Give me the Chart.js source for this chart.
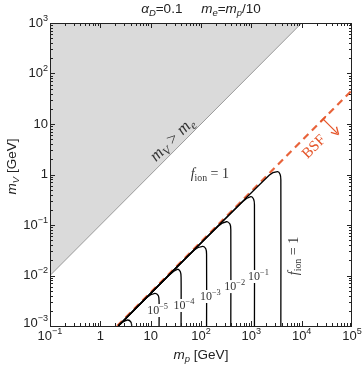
<!DOCTYPE html>
<html>
<head>
<meta charset="utf-8">
<script src="https://cdn.jsdelivr.net/npm/chart.js@4"></script>
<style>
  html, body { margin: 0; padding: 0; background: #fff; }
  canvas { display: block; }
</style>
</head>
<body>
<canvas id="fionChart" width="364" height="367"></canvas>
<script>
// Ejes (escala logaritmica)
var xMin = 0.1, xMax = 1e5;
var yMin = 1e-3, yMax = 1e3;

// Etiquetas de los ejes: [base, exponente]
var xTickValues = [0.1, 1, 10, 100, 1e3, 1e4, 1e5];
var xTickLabels = [['10', '\u22121'], ['1', ''], ['10', ''], ['10', '2'], ['10', '3'], ['10', '4'], ['10', '5']];
var yTickValues = [1e-3, 1e-2, 0.1, 1, 10, 100, 1e3];
var yTickLabels = [['10', '\u22123'], ['10', '\u22122'], ['10', '\u22121'], ['1', ''], ['10', ''], ['10', '2'], ['10', '3']];

// Region gris m_V > m_e
var grayX = [0.1, 1e4];
var grayY = [0.01, 1e3];

// Linea BSF (discontinua)
var bsfX = [2.15, 1e5];
var bsfY = [0.001, 46.5];

// Contornos de f_ion
var c0X = [2.28, 2291, 3304, 3722, 3858, 3858];
var c0Y = [0.001, 0.977, 1.135, 1.014, 0.789, 0.001];
var c1X = [2.28, 678, 977, 1111, 1153, 1153];
var c1Y = [0.001, 0.290, 0.363, 0.324, 0.252, 0.001];
var c2X = [2.28, 222, 320, 377, 391, 391];
var c2Y = [0.001, 0.0955, 0.116, 0.1038, 0.0807, 0.001];
var c3X = [2.28, 74.6, 108, 124.5, 129, 129];
var c3Y = [0.001, 0.0323, 0.0378, 0.0338, 0.0263, 0.001];
var c4X = [2.28, 23.5, 34.0, 38.9, 40.2, 40.2];
var c4Y = [0.001, 0.01023, 0.01327, 0.01183, 0.0092, 0.001];
var c5X = [2.28, 8.36, 12.07, 14.22, 14.69, 14.69];
var c5Y = [0.001, 0.00365, 0.00444, 0.00396, 0.00308, 0.001];
var c6X = [2.28, 2.64, 3.47, 4.06, 4.21];
var c6Y = [0.001, 0.001157, 0.001315, 0.0012, 0.001];

// Etiquetas de contorno (exponente, posicion del "10")
var contourExp = ['\u22125', '\u22124', '\u22123', '\u22122', '\u22121'];
var contourLabX = [11.2, 37.5, 125, 380, 1130];
var contourLabY = [0.00198, 0.00249, 0.00375, 0.0059, 0.00933];

var SANS = '"Liberation Sans", Arial, sans-serif';
var SERIF = '"Liberation Serif", "DejaVu Serif", serif';

function toPoints(xs, ys) {
    return xs.map(function(x, i) { return { x: x, y: ys[i] }; });
}

function contour(xs, ys) {
    return {
        data: toPoints(xs, ys),
        showLine: true,
        borderColor: '#000',
        borderWidth: 1.3,
        tension: 0.3,
        pointRadius: 0,
        fill: false,
        order: 1
    };
}

// Texto con partes en cursiva, subindices y superindices
function drawRich(ctx, parts, x, y, align, size, family, color) {
    var widths = [];
    var total = 0;
    parts.forEach(function(p) {
        var s = (p.sub || p.sup) ? size * 0.7 : size;
        ctx.font = (p.i ? 'italic ' : '') + s + 'px ' + family;
        var w = ctx.measureText(p.t).width;
        widths.push(w);
        total += w;
    });
    var cx = x;
    if (align === 'center') cx = x - total / 2;
    if (align === 'right') cx = x - total;
    if (align === 'first') cx = x - widths[0] / 2;
    ctx.fillStyle = color;
    ctx.textAlign = 'left';
    ctx.textBaseline = 'middle';
    parts.forEach(function(p, i) {
        var s = (p.sub || p.sup) ? size * 0.7 : size;
        ctx.font = (p.i ? 'italic ' : '') + s + 'px ' + family;
        var dy = p.sub ? size * 0.3 : (p.sup ? -size * 0.38 : 0);
        ctx.fillText(p.t, cx, y + dy);
        cx += widths[i];
    });
    return total;
}

function powParts(lab) {
    var parts = [{ t: lab[0] }];
    if (lab[1]) parts.push({ t: lab[1], sup: true });
    return parts;
}

var decorPlugin = {
    id: 'decor',
    beforeDraw: function(chart) {
        var ctx = chart.ctx;
        ctx.save();
        ctx.fillStyle = '#fff';
        ctx.fillRect(0, 0, chart.width, chart.height);
        ctx.restore();
    },
    afterDatasetsDraw: function(chart) {
        var ctx = chart.ctx;
        var a = chart.chartArea;
        var xs = chart.scales.x, ys = chart.scales.y;
        ctx.save();

        // Etiquetas de contorno con fondo blanco
        contourExp.forEach(function(e, i) {
            var px = xs.getPixelForValue(contourLabX[i]);
            var py = ys.getPixelForValue(contourLabY[i]);
            ctx.font = '12px ' + SERIF;
            var w10 = ctx.measureText('10').width;
            ctx.font = '8.4px ' + SERIF;
            var we = ctx.measureText(e).width;
            ctx.fillStyle = '#fff';
            ctx.fillRect(px - w10 / 2 - 1, py - 7, w10 + we + 2, 13);
            drawRich(ctx, [{ t: '10' }, { t: e, sup: true }], px, py, 'first', 12, SERIF, '#333');
        });

        // Marco
        ctx.strokeStyle = '#222';
        ctx.lineWidth = 1;
        ctx.strokeRect(a.left + 0.5, a.top + 0.5, a.right - a.left - 1, a.bottom - a.top);

        // Marcas hacia dentro (mayores y menores)
        ctx.beginPath();
        for (var n = -1; n < 5; n++) {
            for (var m = 1; m < 10; m++) {
                var v = m * Math.pow(10, n);
                var len = m === 1 ? 5 : 3;
                var px = Math.round(xs.getPixelForValue(v)) + 0.5;
                ctx.moveTo(px, a.bottom); ctx.lineTo(px, a.bottom - len);
                ctx.moveTo(px, a.top); ctx.lineTo(px, a.top + len);
            }
        }
        for (var n2 = -3; n2 < 3; n2++) {
            for (var m2 = 1; m2 < 10; m2++) {
                var v2 = m2 * Math.pow(10, n2);
                var len2 = m2 === 1 ? 5 : 3;
                var py = Math.round(ys.getPixelForValue(v2)) + 0.5;
                ctx.moveTo(a.left, py); ctx.lineTo(a.left + len2, py);
                ctx.moveTo(a.right, py); ctx.lineTo(a.right - len2, py);
            }
        }
        ctx.stroke();

        // Etiquetas de los ejes
        xTickValues.forEach(function(v, i) {
            var px = xs.getPixelForValue(v);
            drawRich(ctx, powParts(xTickLabels[i]), px, a.bottom + 10, 'center', 13, SANS, '#222');
        });
        yTickValues.forEach(function(v, i) {
            var py = ys.getPixelForValue(v);
            if (i === 0) py -= 3;
            drawRich(ctx, powParts(yTickLabels[i]), a.left - 2, py, 'right', 13, SANS, '#222');
        });

        // Titulo
        drawRich(ctx, [
            { t: '\u03b1', i: true }, { t: 'D', i: true, sub: true }, { t: '=0.1     ' },
            { t: 'm', i: true }, { t: 'e', i: true, sub: true }, { t: '=' },
            { t: 'm', i: true }, { t: 'p', i: true, sub: true }, { t: '/10' }
        ], (a.left + a.right) / 2, 9, 'center', 13.5, SANS, '#222');

        // Titulos de los ejes
        drawRich(ctx, [{ t: 'm', i: true }, { t: 'p', i: true, sub: true }, { t: ' [GeV]' }],
            (a.left + a.right) / 2, 355, 'center', 13.5, SANS, '#222');
        ctx.save();
        ctx.translate(12, (a.top + a.bottom) / 2 - 8);
        ctx.rotate(-Math.PI / 2);
        drawRich(ctx, [{ t: 'm', i: true }, { t: 'V', i: true, sub: true }, { t: ' [GeV]' }],
            0, 0, 'center', 13.5, SANS, '#222');
        ctx.restore();

        // Texto m_V > m_e a lo largo de la linea gris
        ctx.save();
        ctx.translate(xs.getPixelForValue(27), ys.getPixelForValue(4.9));
        ctx.rotate(-Math.PI / 4);
        drawRich(ctx, [{ t: 'm', i: true }, { t: 'V', i: true, sub: true }, { t: ' > ' },
            { t: 'm', i: true }, { t: 'e', i: true, sub: true }], 0, 0, 'center', 17, SERIF, '#333');
        ctx.restore();

        // f_ion = 1 horizontal
        drawRich(ctx, [{ t: 'f', i: true }, { t: 'ion', sub: true }, { t: ' = 1' }],
            xs.getPixelForValue(150), ys.getPixelForValue(1), 'center', 14, SERIF, '#333');

        // f_ion = 1 vertical
        ctx.save();
        ctx.translate(xs.getPixelForValue(7100), ys.getPixelForValue(0.0243));
        ctx.rotate(-Math.PI / 2);
        drawRich(ctx, [{ t: 'f', i: true }, { t: 'ion', sub: true }, { t: ' = 1' }],
            0, 0, 'center', 14, SERIF, '#333');
        ctx.restore();

        // Etiqueta BSF y flecha
        var red = '#e5562b';
        ctx.save();
        ctx.translate(xs.getPixelForValue(17700), ys.getPixelForValue(3.5));
        ctx.rotate(-Math.PI / 4);
        drawRich(ctx, [{ t: 'BSF' }], 0, 0, 'center', 15, SERIF, red);
        ctx.restore();

        var ax0 = xs.getPixelForValue(26700), ay0 = ys.getPixelForValue(12.5);
        var ax1 = xs.getPixelForValue(50800), ay1 = ys.getPixelForValue(6.6);
        var ang = Math.atan2(ay1 - ay0, ax1 - ax0);
        ctx.strokeStyle = red;
        ctx.lineWidth = 1.3;
        ctx.beginPath();
        ctx.moveTo(ax0 - 4 * Math.sin(ang), ay0 + 4 * Math.cos(ang));
        ctx.lineTo(ax0 + 4 * Math.sin(ang), ay0 - 4 * Math.cos(ang));
        ctx.moveTo(ax0, ay0);
        ctx.lineTo(ax1, ay1);
        ctx.stroke();
        ctx.beginPath();
        ctx.moveTo(ax1 + 2 * Math.cos(ang), ay1 + 2 * Math.sin(ang));
        ctx.lineTo(ax1 - 5 * Math.cos(ang) - 4 * Math.sin(ang), ay1 - 5 * Math.sin(ang) + 4 * Math.cos(ang));
        ctx.moveTo(ax1 + 2 * Math.cos(ang), ay1 + 2 * Math.sin(ang));
        ctx.lineTo(ax1 - 5 * Math.cos(ang) + 4 * Math.sin(ang), ay1 - 5 * Math.sin(ang) - 4 * Math.cos(ang));
        ctx.stroke();

        ctx.restore();
    }
};

var ctx = document.getElementById('fionChart').getContext('2d');
var fionChart = new Chart(ctx, {
    type: 'scatter',
    data: {
        datasets: [
            {
                data: toPoints(grayX, grayY),
                showLine: true,
                borderColor: '#9a9a9a',
                borderWidth: 1,
                backgroundColor: '#dadada',
                fill: 'end',
                pointRadius: 0,
                order: 10
            },
            {
                data: toPoints(bsfX, bsfY),
                showLine: true,
                borderColor: '#e8633a',
                borderWidth: 2.2,
                borderDash: [7, 5],
                pointRadius: 0,
                fill: false,
                order: 2
            },
            contour(c0X, c0Y),
            contour(c1X, c1Y),
            contour(c2X, c2Y),
            contour(c3X, c3Y),
            contour(c4X, c4Y),
            contour(c5X, c5Y),
            contour(c6X, c6Y)
        ]
    },
    options: {
        responsive: false,
        animation: false,
        devicePixelRatio: 1,
        layout: { padding: { left: 50, right: 12, top: 23, bottom: 41 } },
        plugins: {
            legend: { display: false },
            tooltip: { enabled: false }
        },
        scales: {
            x: { type: 'logarithmic', min: xMin, max: xMax, display: false },
            y: { type: 'logarithmic', min: yMin, max: yMax, display: false }
        }
    },
    plugins: [decorPlugin]
});
</script>
</body>
</html>
